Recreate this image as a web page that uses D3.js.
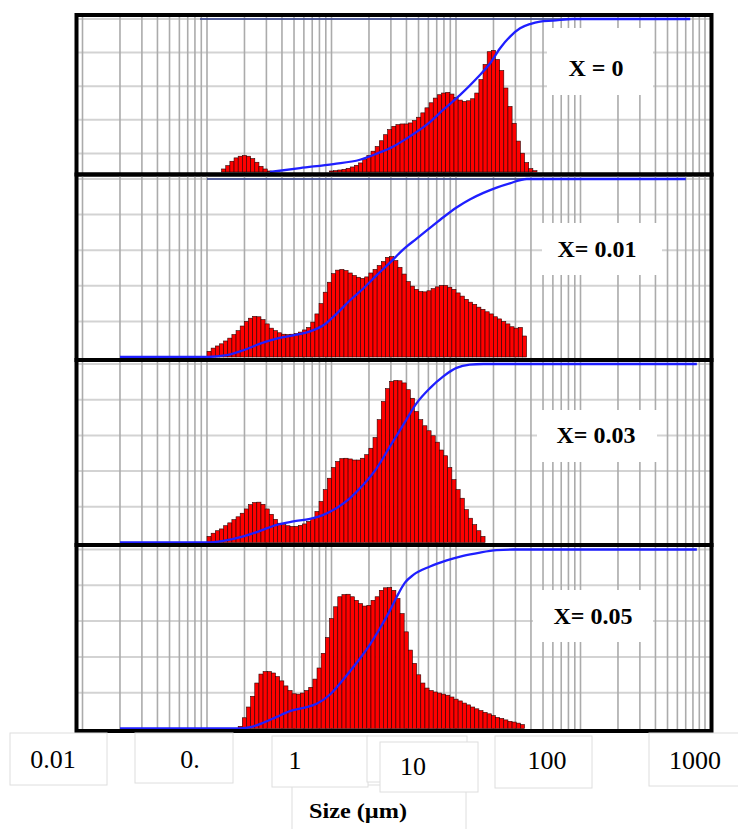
<!DOCTYPE html>
<html>
<head>
<meta charset="utf-8">
<script src="https://cdn.jsdelivr.net/npm/d3@7"></script>
<style>
  body { margin: 0; background: #fff; }
  svg { display: block; }
</style>
</head>
<body>
<div id="chart"></div>
<script>
// particle size classes: 30 log bins per decade, bar value = volume % (1 grid step = 1 %)
const binsPerDecade = 30;

// X = 0
const hist0Start = 0.131;
const hist0 = [
  0.09, 0.19, 0.32, 0.42, 0.47, 0.49, 0.47, 0.40, 0.29, 0.17, 0.09, 0.03,
  0, 0, 0, 0, 0, 0, 0, 0, 0, 0, 0, 0, 0, 0,
  0.03, 0.04, 0.06, 0.08, 0.11, 0.15, 0.20, 0.27, 0.37, 0.49,
  0.62, 0.76, 0.93, 1.11, 1.26, 1.36, 1.41, 1.43, 1.43, 1.46,
  1.53, 1.63, 1.76, 1.91, 2.06, 2.20, 2.30, 2.35, 2.37, 2.32,
  2.22, 2.14, 2.10, 2.12, 2.18, 2.35, 2.75, 3.20, 3.58, 3.62,
  3.35, 3.02, 2.50, 1.95, 1.45, 0.92, 0.56, 0.28, 0.10, 0.04
];
const cum0Size = [0.32, 0.558, 1.035, 1.69, 2.31, 3.14, 4.27, 5.82, 7.91, 10.8, 14.7, 18.8, 22.6, 27.2, 32.7, 39.3, 47.3, 60.1, 87, 760];
const cum0Pct = [0, 2.6, 5.2, 8.0, 12.0, 16.7, 23.3, 30.9, 40.7, 50.4, 61.3, 71.1, 80.9, 88.5, 93.9, 96.7, 98.3, 98.9, 100, 100];

// X = 0.01
const hist1Start = 0.1;
const hist1 = [
  0.16, 0.25, 0.31, 0.37, 0.45, 0.53, 0.63, 0.74, 0.87, 1.00,
  1.09, 1.14, 1.13, 1.05, 0.93, 0.81, 0.74, 0.68, 0.64, 0.63,
  0.64, 0.66, 0.70, 0.76, 0.83, 0.98, 1.21, 1.50, 1.82, 2.10,
  2.34, 2.44, 2.46, 2.43, 2.36, 2.29, 2.24, 2.21, 2.25, 2.36,
  2.46, 2.57, 2.68, 2.80, 2.82, 2.71, 2.52, 2.33, 2.12, 1.99,
  1.90, 1.84, 1.83, 1.86, 1.92, 1.97, 2.01, 2.01, 1.96, 1.90,
  1.80, 1.71, 1.62, 1.54, 1.48, 1.40, 1.34, 1.27, 1.21, 1.13,
  1.07, 1.00, 0.93, 0.85, 0.81, 0.83, 0.59
];
const cum1Size = [0.02, 0.1, 0.144, 0.196, 0.267, 0.363, 0.494, 0.672, 0.860, 1.10, 1.41, 1.80, 2.31, 2.95, 3.78, 4.83, 6.18, 7.91, 10.1, 12.9, 16.6, 21.2, 27.1, 37.0, 700];
const cum1Pct = [0, 0, 1, 3.8, 7.5, 10.3, 12.2, 14.4, 17.8, 24.4, 31.9, 38.5, 46, 53, 60.5, 66.5, 72.5, 78.5, 84, 88.5, 92.2, 95.2, 97.6, 100, 100];

// X = 0.03
const hist2Start = 0.1;
const hist2 = [
  0.17, 0.26, 0.33, 0.38, 0.47, 0.55, 0.64, 0.72, 0.82, 0.94,
  1.06, 1.12, 1.13, 1.07, 0.94, 0.79, 0.65, 0.54, 0.50, 0.47,
  0.45, 0.45, 0.48, 0.52, 0.59, 0.68, 0.87, 1.15, 1.48, 1.80,
  2.10, 2.27, 2.35, 2.36, 2.34, 2.31, 2.31, 2.36, 2.46, 2.64,
  2.94, 3.44, 3.95, 4.31, 4.51, 4.54, 4.53, 4.47, 4.28, 4.04,
  3.67, 3.44, 3.27, 3.13, 2.99, 2.81, 2.59, 2.43, 2.10, 1.76,
  1.48, 1.24, 0.92, 0.68, 0.50, 0.33, 0.17
];
const cum2Size = [0.02, 0.1, 0.135, 0.196, 0.267, 0.363, 0.494, 0.672, 0.860, 1.10, 1.41, 1.80, 2.31, 2.95, 3.78, 4.83, 6.18, 7.91, 10.1, 12.9, 16.6, 860];
const cum2Pct = [0, 0, 0.9, 3.4, 6.5, 9.9, 11.8, 13.3, 15.5, 19.3, 24.9, 32.3, 41.7, 53.8, 66, 78.1, 86.5, 93.1, 97.8, 99.6, 100, 100];

// X = 0.05
const hist3Start = 0.178;
const hist3 = [
  0.06, 0.30, 0.60, 0.90, 1.27, 1.52, 1.59, 1.59, 1.55, 1.45,
  1.33, 1.19, 1.06, 0.97, 0.96, 0.99, 1.06, 1.15, 1.38, 1.69,
  2.10, 2.54, 3.07, 3.40, 3.68, 3.74, 3.75, 3.68, 3.58, 3.49,
  3.42, 3.44, 3.58, 3.68, 3.86, 3.93, 3.94, 3.86, 3.63, 3.21,
  2.70, 2.19, 1.82, 1.50, 1.27, 1.13, 1.06, 1.02, 0.99, 0.96,
  0.93, 0.88, 0.82, 0.77, 0.71, 0.66, 0.60, 0.55, 0.50, 0.45,
  0.41, 0.36, 0.31, 0.28, 0.24, 0.20, 0.18, 0.15, 0.11
];
const cum3Size = [0.02, 0.178, 0.2215, 0.283, 0.363, 0.464, 0.594, 0.760, 0.973, 1.244, 1.594, 2.04, 2.45, 2.95, 3.34, 3.89, 4.54, 6.18, 8.42, 11.4, 15.6, 21.2, 28.9, 860];
const cum3Pct = [0, 0, 0.7, 3.2, 6.5, 9.7, 11.5, 13.8, 19, 27.4, 36.7, 47, 56, 66, 73.5, 81.5, 85.8, 90.5, 93.9, 96.5, 98.3, 99.6, 100, 100];

const panelLabels = ["X = 0", "X= 0.01", "X= 0.03", "X= 0.05"];
const tickLabels = ["0.01", "0.", "1", "10", "100", "1000"];
const axisTitle = "Size (\u00b5m)";

const series = [
  { start: hist0Start, hist: hist0, cumSize: cum0Size, cumPct: cum0Pct },
  { start: hist1Start, hist: hist1, cumSize: cum1Size, cumPct: cum1Pct },
  { start: hist2Start, hist: hist2, cumSize: cum2Size, cumPct: cum2Pct },
  { start: hist3Start, hist: hist3, cumSize: cum3Size, cumPct: cum3Pct }
];

const width = 738, height = 829;
const serif = "'Liberation Serif', 'Times New Roman', serif";

const svg = d3.select("#chart").append("svg")
  .attr("width", width)
  .attr("height", height);

const x = d3.scaleLog().domain([0.01, 1000]).range([82.5, 705]);
const frameLeft = 76.5, frameRight = 711.5;

// the four plots were pasted on top of each other, so spacing is a bit uneven
const panels = [
  { top: 15, bottom: 174.5, gridTop: 19, base: 172, step: 33.6, box: [547, 28, 106, 67], lx: 596, ly: 76, navy: 200 },
  { top: 174.5, bottom: 360, gridTop: 179, base: 357, step: 35.6, box: [542, 223, 120, 52], lx: 597, ly: 257, navy: 207 },
  { top: 360, bottom: 545, gridTop: 364, base: 542.5, step: 35.7, box: [537, 410, 120, 52], lx: 596, ly: 443 },
  { top: 545, bottom: 731, gridTop: 549.5, base: 728.5, step: 35.8, box: [533, 590, 120, 52], lx: 593, ly: 624 }
];

panels.forEach((p, idx) => {
  const s = series[idx];
  const g = svg.append("g");

  g.append("clipPath").attr("id", "clip" + idx)
    .append("rect")
    .attr("x", frameLeft).attr("y", p.top)
    .attr("width", frameRight - frameLeft).attr("height", p.bottom - p.top);

  const inner = g.append("g").attr("clip-path", `url(#clip${idx})`);

  const yHist = d3.scaleLinear().domain([0, 5]).range([p.base, p.base - 5 * p.step]);
  const yCum = d3.scaleLinear().domain([0, 100]).range([p.base, p.gridTop]);

  // horizontal grid
  inner.selectAll(".hgrid")
    .data(d3.range(5).map(i => p.gridTop + i * p.step))
    .join("line")
    .attr("x1", frameLeft).attr("x2", frameRight)
    .attr("y1", d => d).attr("y2", d => d)
    .attr("stroke", "#d3d3d3")
    .attr("stroke-width", 2);

  // vertical log grid
  inner.selectAll(".vgrid")
    .data(x.ticks())
    .join("line")
    .attr("x1", d => x(d)).attr("x2", d => x(d))
    .attr("y1", p.top).attr("y2", p.bottom)
    .attr("stroke", "#ababab")
    .attr("stroke-width", 1.6);

  // label box
  inner.append("rect")
    .attr("x", p.box[0]).attr("y", p.box[1])
    .attr("width", p.box[2]).attr("height", p.box[3])
    .attr("fill", "#fff");
  g.append("text")
    .attr("x", p.lx).attr("y", p.ly)
    .attr("text-anchor", "middle")
    .style("font-family", serif)
    .style("font-weight", "bold")
    .style("font-size", "24px")
    .text(panelLabels[idx]);

  // histogram bars
  const bars = s.hist.map((v, i) => ({
    x0: s.start * Math.pow(10, i / binsPerDecade),
    x1: s.start * Math.pow(10, (i + 1) / binsPerDecade),
    v: v
  })).filter(d => d.v > 0);

  inner.selectAll(".bar")
    .data(bars)
    .join("rect")
    .attr("x", d => x(d.x0))
    .attr("width", d => x(d.x1) - x(d.x0))
    .attr("y", d => yHist(d.v))
    .attr("height", d => yHist(0) - yHist(d.v))
    .attr("fill", "#ff0000")
    .attr("stroke", "#2a0000")
    .attr("stroke-width", 0.6);

  // dark line along the top of the first two plots
  if (p.navy) {
    inner.append("line")
      .attr("x1", p.navy).attr("x2", x(s.cumSize[s.cumSize.length - 1]))
      .attr("y1", yCum(100)).attr("y2", yCum(100))
      .attr("stroke", "#2e3d8c")
      .attr("stroke-width", 1.6);
  }

  // cumulative curve
  const cum = s.cumSize.map((d, i) => [d, s.cumPct[i]]);
  const line = d3.line()
    .x(d => x(d[0]))
    .y(d => yCum(d[1]))
    .curve(d3.curveMonotoneX);

  inner.append("path")
    .datum(cum)
    .attr("fill", "none")
    .attr("stroke", "#1f1fff")
    .attr("stroke-width", 2.3)
    .attr("stroke-linejoin", "round")
    .attr("d", line);

  // frame
  g.append("rect")
    .attr("x", frameLeft).attr("y", p.top)
    .attr("width", frameRight - frameLeft).attr("height", p.bottom - p.top)
    .attr("fill", "none")
    .attr("stroke", "#000")
    .attr("stroke-width", 4);
});

// pasted tick label boxes under the plots
const boxStroke = "#dedede";
const tickBoxes = [
  { x: 10, y: 733, w: 97, h: 52, tx: 53, ty: 768 },
  { x: 135, y: 733, w: 98, h: 50, tx: 190, ty: 768 },
  { x: 272, y: 736, w: 96, h: 51, tx: 295, ty: 769 },
  { x: 380, y: 742, w: 98, h: 50, tx: 413, ty: 775 },
  { x: 495, y: 736, w: 97, h: 52, tx: 547, ty: 769 },
  { x: 649, y: 733, w: 95, h: 53, tx: 695, ty: 769 }
];

svg.append("rect")
  .attr("x", 292).attr("y", 785).attr("width", 174).attr("height", 50)
  .attr("fill", "#fff").attr("stroke", boxStroke);

tickBoxes.forEach((b, i) => {
  if (i == 3) {
    svg.append("rect")
      .attr("x", 367).attr("y", 736).attr("width", 100).attr("height", 46)
      .attr("fill", "#fff").attr("stroke", boxStroke);
  }
  svg.append("rect")
    .attr("x", b.x).attr("y", b.y).attr("width", b.w).attr("height", b.h)
    .attr("fill", "#fff").attr("stroke", boxStroke);
  svg.append("text")
    .attr("x", b.tx).attr("y", b.ty)
    .attr("text-anchor", "middle")
    .style("font-family", serif)
    .style("font-size", "26px")
    .text(tickLabels[i]);
});

svg.append("text")
  .attr("x", 358).attr("y", 818)
  .attr("text-anchor", "middle")
  .attr("textLength", 98)
  .attr("lengthAdjust", "spacingAndGlyphs")
  .style("font-family", serif)
  .style("font-weight", "bold")
  .style("font-size", "22px")
  .text(axisTitle);
</script>
</body>
</html>
